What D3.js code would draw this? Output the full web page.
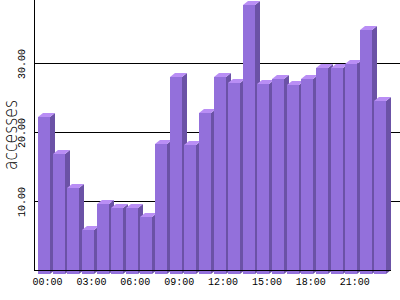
<!DOCTYPE html>
<html><head><meta charset="utf-8">
<script src="https://cdn.jsdelivr.net/npm/d3@7"></script>
<style>html,body{margin:0;padding:0;background:#fff;}svg{display:block;}</style>
</head><body>
<svg id="c" width="400" height="300"></svg>
<script>
const hours = ["00:00","01:00","02:00","03:00","04:00","05:00","06:00","07:00","08:00","09:00","10:00","11:00",
  "12:00","13:00","14:00","15:00","16:00","17:00","18:00","19:00","20:00","21:00","22:00","23:00"];
const accesses = [22.7,17.4,12.5,6.4,10.2,9.5,9.5,8.3,18.9,28.5,18.7,23.3,
  28.5,27.7,39.0,27.6,28.3,27.4,28.3,29.8,29.9,30.5,35.4,25.1];
const yTicks = [10,20,30];
const xLabels = ["00:00","03:00","06:00","09:00","12:00","15:00","18:00","21:00"];
const yTitle = "accesses";

const svg = d3.select("#c");
const left = 34, base = 270, dx = 5, dy = 4;
const y = d3.scaleLinear().domain([0, 39.13]).range([base, 0]);
const x = d3.scaleBand().domain(hours).range([36.68, 387.8]).paddingInner(0.18).paddingOuter(0.09);
const bw = x.bandwidth();

// grid
svg.append("g").selectAll("line").data(yTicks).join("line")
  .attr("x1", left).attr("x2", 400)
  .attr("y1", d => Math.round(y(d)) + 0.5).attr("y2", d => Math.round(y(d)) + 0.5)
  .attr("stroke", "#000").attr("stroke-width", 1);

// bars
const g = svg.append("g").attr("shape-rendering", "crispEdges");
const bars = g.selectAll("g.bar").data(hours.map((h, i) => ({h, v: accesses[i]}))).join("g");
bars.each(function(d) {
  const sel = d3.select(this);
  const x0 = Math.round(x(d.h));
  const top = Math.round(y(d.v)) + dy; // front top
  const bot = base + dy;
  sel.append("path")
    .attr("d", `M${x0+bw},${top} L${x0+bw+dx},${top-dy} L${x0+bw+dx},${base} L${x0+bw},${bot} Z`)
    .attr("fill", "#6b52a6").attr("shape-rendering", "auto");
  sel.append("path")
    .attr("d", `M${x0},${top} L${x0+dx},${top-dy} L${x0+bw+dx},${top-dy} L${x0+bw},${top} Z`)
    .attr("fill", "#b98ef5").attr("shape-rendering", "auto");
  sel.append("rect").attr("x", x0).attr("y", top).attr("width", bw).attr("height", bot - top)
    .attr("fill", "#9370db");
});

// axes lines
svg.append("line").attr("x1", left + 0.5).attr("x2", left + 0.5).attr("y1", 0).attr("y2", base + 1)
  .attr("stroke", "#000");
svg.append("line").attr("x1", left).attr("x2", Math.round(x(hours[23]) + bw + dx))
  .attr("y1", base + 0.5).attr("y2", base + 0.5).attr("stroke", "#000");

// x labels
svg.append("g").selectAll("text").data(xLabels).join("text")
  .attr("x", d => x(d) + 9.5).attr("y", 285)
  .attr("text-anchor", "middle")
  .attr("font-family", "Liberation Mono, DejaVu Sans Mono").attr("font-size", 10).attr("fill", "#000")
  .text(d => d);

// y labels
svg.append("g").selectAll("text").data(yTicks).join("text")
  .attr("transform", d => `translate(25,${y(d) + 1}) rotate(-90)`)
  .attr("text-anchor", "middle")
  .attr("font-family", "Liberation Mono, DejaVu Sans Mono").attr("font-size", 10).attr("fill", "#000")
  .text(d => d3.format(".2f")(d));

// y title
svg.append("text")
  .attr("transform", "translate(17,135) rotate(-90)")
  .attr("text-anchor", "middle")
  .attr("font-family", "DejaVu Sans").attr("font-weight", 200).attr("font-size", 19)
  .attr("textLength", 70).attr("lengthAdjust", "spacingAndGlyphs")
  .attr("fill", "#000")
  .text(yTitle);
</script>
</body></html>
